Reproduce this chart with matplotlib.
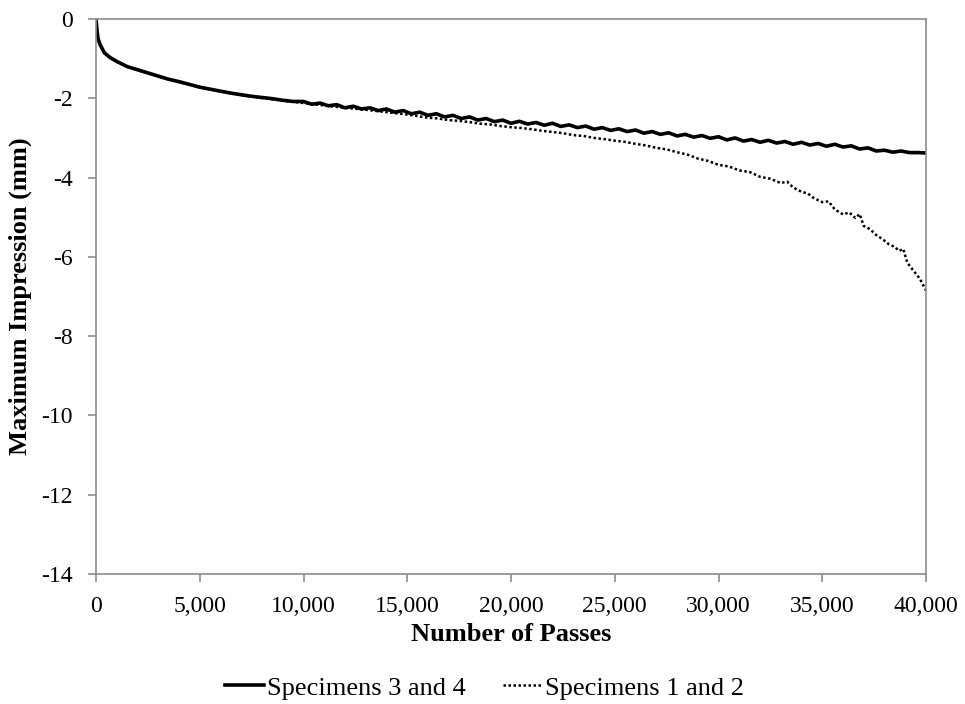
import matplotlib
matplotlib.use("Agg")
import matplotlib.pyplot as plt
from matplotlib.ticker import FuncFormatter

plt.rcParams['font.family'] = ['Liberation Serif', 'DejaVu Serif']
plt.rcParams['axes.unicode_minus'] = False

# Specimens 3 and 4 (solid)
passes_34 = [0, 50, 100, 200, 400, 700, 1000, 1500, 2000, 2500, 3000, 3500, 4000, 4500,
             5000, 5500, 6000, 6500, 7000, 7500, 8000, 8500, 9000, 9500,
             10000, 10400, 10800, 11200, 11600, 12000, 12400, 12800, 13200, 13600,
             14000, 14400, 14800, 15200, 15600, 16000, 16400, 16800, 17200, 17600,
             18000, 18400, 18800, 19200, 19600, 20000, 20400, 20800, 21200, 21600,
             22000, 22400, 22800, 23200, 23600, 24000, 24400, 24800, 25200, 25600,
             26000, 26400, 26800, 27200, 27600, 28000, 28400, 28800, 29200, 29600,
             30000, 30400, 30800, 31200, 31600, 32000, 32400, 32800, 33200, 33600,
             34000, 34400, 34800, 35200, 35600, 36000, 36400, 36800, 37200, 37600,
             38000, 38400, 38800, 39200, 39600, 40000]
impr_34 = [0, -0.3, -0.5, -0.65, -0.85, -0.98, -1.07, -1.2, -1.28, -1.36, -1.44, -1.52, -1.58, -1.65,
           -1.72, -1.77, -1.82, -1.87, -1.91, -1.95, -1.98, -2.01, -2.05, -2.08,
           -2.08, -2.15, -2.12, -2.19, -2.16, -2.24, -2.20, -2.27, -2.24, -2.31,
           -2.27, -2.35, -2.31, -2.39, -2.35, -2.43, -2.39, -2.47, -2.43, -2.51,
           -2.47, -2.55, -2.51, -2.59, -2.55, -2.63, -2.58, -2.65, -2.61, -2.68,
           -2.63, -2.71, -2.67, -2.74, -2.70, -2.78, -2.74, -2.81, -2.77, -2.84,
           -2.80, -2.88, -2.84, -2.91, -2.87, -2.95, -2.91, -2.98, -2.94, -3.01,
           -2.97, -3.05, -3.00, -3.08, -3.04, -3.11, -3.06, -3.13, -3.09, -3.16,
           -3.11, -3.18, -3.14, -3.21, -3.16, -3.23, -3.20, -3.28, -3.25, -3.33,
           -3.31, -3.36, -3.33, -3.37, -3.37, -3.38]

# Specimens 1 and 2 (dotted)
passes_12 = [0, 50, 100, 200, 400, 700, 1000, 1500, 2000, 3000, 4000, 5000, 6000, 7000,
             8000, 9000, 10000, 11000, 12000, 13000, 14000,
             15000, 15500, 16000, 16500, 17000, 17500, 18000, 18500, 19000, 19500,
             20000, 20500, 21000, 21500, 22000, 22500, 23000, 23500, 24000, 24500,
             25000, 25500, 26000, 26500, 27000, 27500, 28000, 28500, 29000, 29500,
             30000, 30500, 31000, 31500, 32000, 32500, 33000, 33300, 33600, 34000,
             34300, 34600, 35000, 35300, 35600, 36000, 36300, 36600, 36800, 37000,
             37300, 37600, 37900, 38200, 38500, 38700, 38900, 39100, 39400, 39700, 40000]
impr_12 = [0, -0.3, -0.5, -0.66, -0.86, -0.99, -1.08, -1.2, -1.29, -1.45, -1.59, -1.72, -1.83, -1.92,
           -1.99, -2.06, -2.12, -2.18, -2.24, -2.29, -2.35,
           -2.41, -2.45, -2.49, -2.51, -2.55, -2.57, -2.60, -2.64, -2.66, -2.70,
           -2.73, -2.75, -2.78, -2.82, -2.85, -2.88, -2.93, -2.95, -3.00, -3.03,
           -3.07, -3.10, -3.15, -3.19, -3.25, -3.29, -3.36, -3.42, -3.52, -3.58,
           -3.68, -3.72, -3.82, -3.86, -3.98, -4.03, -4.14, -4.10, -4.25, -4.36,
           -4.40, -4.52, -4.62, -4.60, -4.80, -4.93, -4.88, -5.02, -4.92, -5.22,
           -5.30, -5.45, -5.55, -5.68, -5.75, -5.85, -5.80, -6.15, -6.35, -6.55, -6.85]

fig = plt.figure(figsize=(9.65, 7.04), dpi=100)
ax = fig.add_axes([0.0995, 0.1847, 0.8601, 0.7883])

l1, = ax.plot(passes_34, impr_34, color='black', linewidth=2.6, label='Specimens 3 and 4')
l2, = ax.plot(passes_12, impr_12, color='black', linewidth=1.8, linestyle=(0, (1, 1)),
              label='Specimens 1 and 2')

ax.set_xlim(0, 40000)
ax.set_ylim(-14, 0)
ax.set_xticks(range(0, 40001, 5000))
ax.set_yticks(range(-14, 1, 2))
ax.xaxis.set_major_formatter(FuncFormatter(lambda v, p: f"{int(v):,}"))
ax.yaxis.set_major_formatter(FuncFormatter(lambda v, p: f"{int(v)}"))

for s in ax.spines.values():
    s.set_color('#8c8c8c')
    s.set_linewidth(1.2)
ax.tick_params(axis='both', direction='out', length=6, width=1.2, color='#8c8c8c',
               labelsize=17)
ax.tick_params(axis='y', pad=11)
ax.tick_params(axis='x', pad=10)

ax.set_xlabel('Number of Passes', fontsize=19, fontweight='bold', labelpad=4)
ax.set_ylabel('Maximum Impression (mm)', fontsize=19, fontweight='bold', labelpad=6)

fig.legend(handles=[l1, l2], loc='center', bbox_to_anchor=(0.502, 0.023), ncol=2,
           frameon=False, fontsize=19, handlelength=1.5, handletextpad=0.1,
           columnspacing=1.4)

fig.savefig('out.png', dpi=100)
